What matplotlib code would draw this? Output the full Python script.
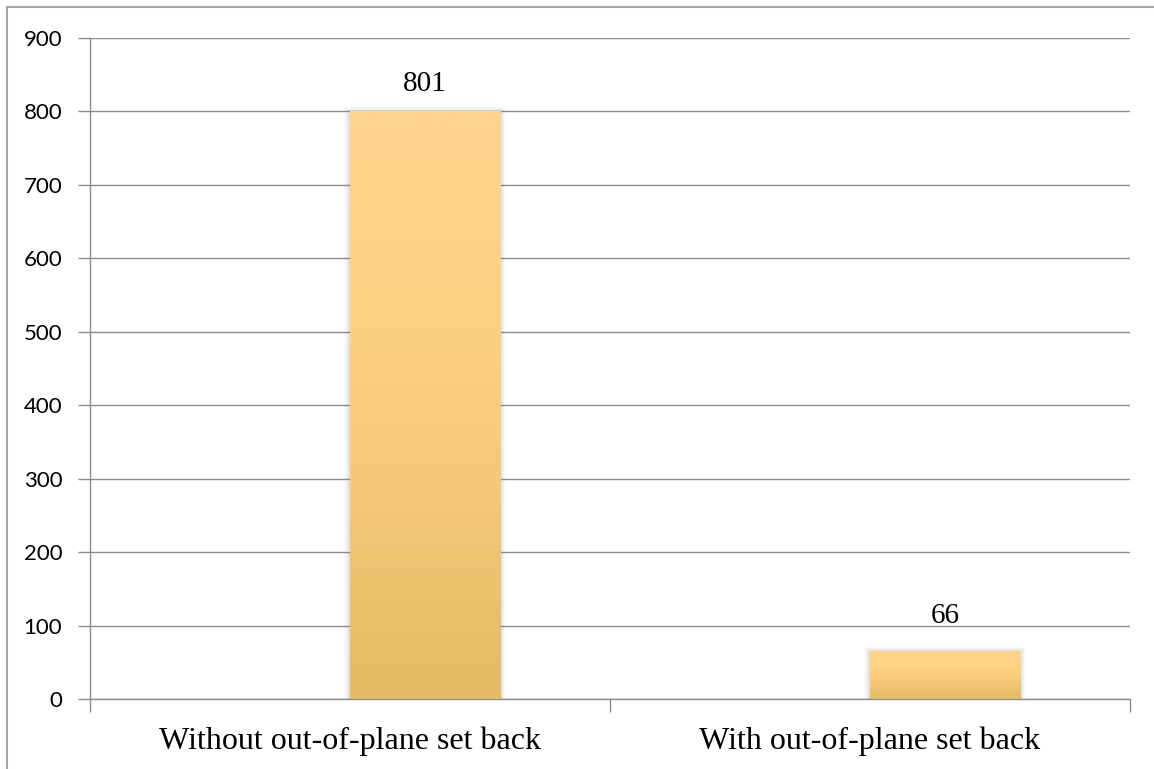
import numpy as np
import matplotlib
matplotlib.use("Agg")
import matplotlib.pyplot as plt
from matplotlib.patches import Rectangle
from matplotlib.colors import LinearSegmentedColormap

categories = ["Without out-of-plane set back", "With out-of-plane set back"]
values = [801, 66]
yticks = [0, 100, 200, 300, 400, 500, 600, 700, 800, 900]

W, H = 1154, 769
fig = plt.figure(figsize=(W / 100, H / 100), dpi=100)
ax = fig.add_axes([90 / W, (H - 699) / H, (1130 - 90) / W, (699 - 38) / H])

grid_c = "#8c8c8c"
ax.set_xlim(-0.5, 1.5)
ax.set_ylim(0, 900)
ax.set_yticks(yticks)
ax.set_xticks([-0.5, 0.5, 1.5], minor=False)
ax.set_xticklabels([])
ax.set_xticks([0, 1], minor=True)
ax.set_xticklabels(categories, minor=True, family="Liberation Serif", fontsize=23)
ax.tick_params(axis="x", which="minor", length=0, pad=20)
ax.tick_params(axis="x", which="major", length=9, color=grid_c, width=1)
ax.tick_params(axis="y", length=9, color=grid_c, width=1, pad=11, labelsize=16)
for lab in ax.get_yticklabels():
    lab.set_family("Lato")
ax.yaxis.grid(True, color=grid_c, lw=1)
ax.set_axisbelow(True)
for s in ["top", "right"]:
    ax.spines[s].set_visible(False)
for s in ["left", "bottom"]:
    ax.spines[s].set_color(grid_c)
    ax.spines[s].set_linewidth(1)

bar_w = 0.2885
label_gap = [14.5, 19.5]  # points between bar top and label baseline
cmap = LinearSegmentedColormap.from_list("bar", ["#e4ba66", "#f4c876", "#fed283", "#fed58f"])
grad = np.linspace(0, 1, 256).reshape(-1, 1)
for i, v in enumerate(values):
    # soft shadow around the bar
    for k, a in [(0.012, 0.04), (0.007, 0.07), (0.003, 0.11)]:
        ax.add_patch(Rectangle((i - k, 0), bar_w + 2 * k, v + k * 450, color="#777777",
                               alpha=a, lw=0, zorder=2))
    rect = Rectangle((i, 0), bar_w, v, facecolor="none", lw=0, zorder=3)
    ax.add_patch(rect)
    im = ax.imshow(grad, extent=(i, i + bar_w, 0, v), origin="lower", cmap=cmap,
                   aspect="auto", zorder=3)
    im.set_clip_path(rect)
    ax.annotate(str(v), (i + bar_w / 2, v), xytext=(0, label_gap[i]),
                textcoords="offset points", ha="center", va="baseline",
                family="Liberation Serif", fontsize=21, zorder=4)

ax.set_xlim(-0.5, 1.5)
ax.set_ylim(0, 900)

# outer frame (top and left edges)
fig.add_artist(plt.Line2D([7 / W, 7 / W], [0, 1 - 7 / H], color="#a6a6a6", lw=1.5,
                          transform=fig.transFigure))
fig.add_artist(plt.Line2D([7 / W, 1], [1 - 7 / H, 1 - 7 / H], color="#a6a6a6", lw=1.5,
                          transform=fig.transFigure))

fig.savefig("out.png", dpi=100, facecolor="white")
